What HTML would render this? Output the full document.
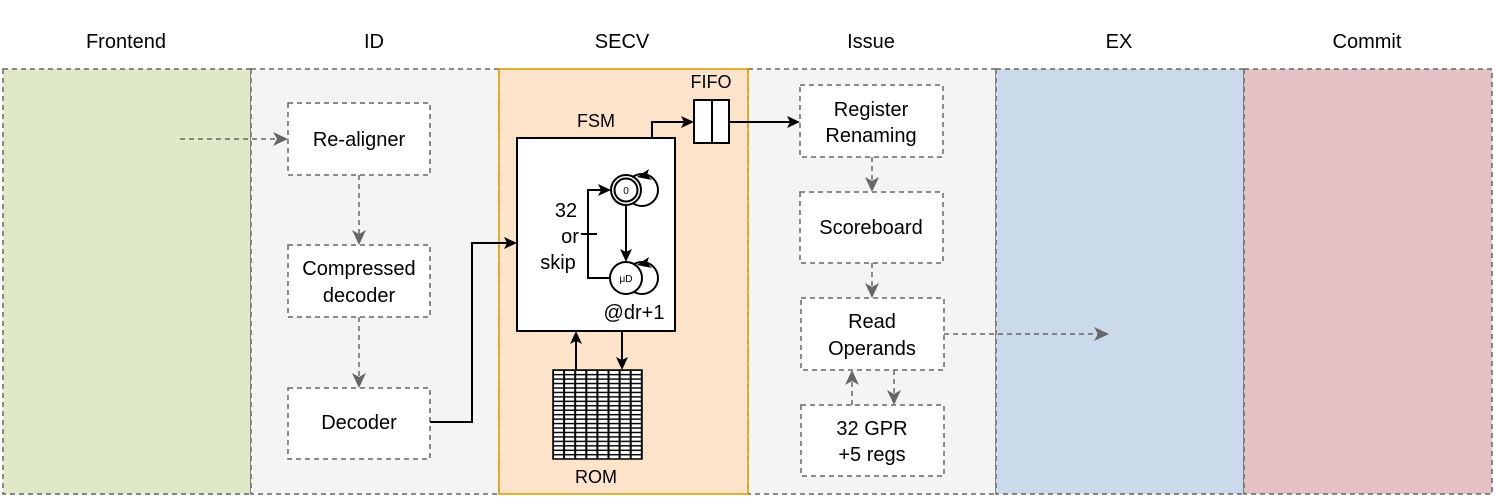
<!DOCTYPE html>
<html><head><meta charset="utf-8"><style>
html,body{margin:0;padding:0;background:#fff}
svg{display:block;font-family:"Liberation Sans",sans-serif}
</style></head><body>
<svg width="1495" height="499" viewBox="0 0 1495 499">
<defs>
<pattern id="rom" x="553" y="370" width="11.1" height="4.45" patternUnits="userSpaceOnUse"><rect width="11.1" height="4.45" fill="#000"/><rect x="1" y="0.9" width="9.1" height="3" fill="#fff"/></pattern>
</defs>
<g font-size="20" text-anchor="middle" fill="#000">
<text x="126" y="48">Frontend</text><text x="374" y="48">ID</text><text x="622" y="48">SECV</text>
<text x="871" y="48">Issue</text><text x="1119" y="48">EX</text><text x="1367" y="48">Commit</text>
</g>
<g stroke="#666" stroke-width="1.5" stroke-dasharray="5,4">
<rect x="3" y="69" width="248" height="425" fill="#dfe9c8"/>
<rect x="251" y="69" width="248" height="425" fill="#f4f4f4"/>
<rect x="748" y="69" width="248" height="425" fill="#f4f4f4"/>
<rect x="996" y="69" width="248" height="425" fill="#cbdaea"/>
<rect x="1244" y="69" width="248" height="425" fill="#e3c1c5"/>
</g>
<rect x="499" y="69" width="249" height="425" fill="#fee3cb" stroke="#d79b00" stroke-width="1.5"/>
<g stroke="#666" stroke-width="1.5" stroke-dasharray="5,4" fill="#fff">
<rect x="288" y="103" width="142" height="72"/>
<rect x="288" y="245" width="142" height="72"/>
<rect x="288" y="388" width="142" height="71"/>
<rect x="800" y="85" width="143" height="72"/>
<rect x="800" y="192" width="143" height="71"/>
<rect x="801" y="298" width="143" height="72"/>
<rect x="801" y="405" width="143" height="71"/>
</g>
<g stroke="#666" stroke-width="1.5" stroke-dasharray="5,4" fill="none">
<path d="M180,139 H278"/>
<path d="M359,175 V235"/>
<path d="M359,317 V378"/>
<path d="M872,157 V182"/>
<path d="M872,263 V288"/>
<path d="M944,334 H1099"/>
<path d="M852,405 V380"/>
<path d="M894,370 V395"/>
</g>
<g fill="#666">
<path d="M288,139 L273,132 L277,139 L273,146z"/>
<path d="M359,245 L352,230 L359,234 L366,230z"/>
<path d="M359,388 L352,373 L359,377 L366,373z"/>
<path d="M872,192 L865,177 L872,181 L879,177z"/>
<path d="M872,298 L865,283 L872,287 L879,283z"/>
<path d="M1109,334 L1094,327 L1098,334 L1094,341z"/>
<path d="M852,370 L845,385 L852,381 L859,385z"/>
<path d="M894,405 L887,390 L894,394 L901,390z"/>
</g>
<g font-size="20" text-anchor="middle" fill="#000">
<text x="359" y="146">Re-aligner</text>
<text x="359" y="275">Compressed</text><text x="359" y="302">decoder</text>
<text x="359" y="429">Decoder</text>
<text x="871" y="116">Register</text><text x="871" y="142">Renaming</text>
<text x="871" y="234">Scoreboard</text>
<text x="872" y="328">Read</text><text x="872" y="355">Operands</text>
<text x="872" y="435">32 GPR</text><text x="872" y="461">+5 regs</text>
</g>
<g stroke="#000" stroke-width="2" fill="none">
<rect x="517" y="138" width="158" height="193" fill="#fff"/>
<path d="M430,422 H472 V243 H508"/>
<path d="M652,138 V122 H685"/>
<rect x="694" y="100" width="35" height="43" fill="#fff"/>
<path d="M712,100 V143"/>
<path d="M729,122 H791"/>
<circle cx="642" cy="190" r="16"/>
<circle cx="626" cy="190" r="15" fill="#fff"/>
<circle cx="626" cy="190" r="11.5"/>
<circle cx="642" cy="278" r="16"/>
<circle cx="626" cy="278" r="16" fill="#fff"/>
<path d="M626,205 V253"/>
<path d="M610,278 H588 V190 H602"/>
<path d="M581,234 H597"/>
<path d="M576,370 V340"/>
<path d="M622,331 V361"/>
</g>
<g fill="#000">
<path d="M517,243 L504,237 L507,243 L504,249z"/>
<path d="M694,122 L681,116 L684,122 L681,128z"/>
<path d="M800,122 L787,116 L790,122 L787,128z"/>
<path d="M611,190 L598,184 L601,190 L598,196z"/>
<path d="M626,262 L620,249 L626,252 L632,249z"/>
<path d="M622,370 L616,357 L622,360 L628,357z"/>
<path d="M576,331 L570,344 L576,341 L582,344z"/>
<path d="M637,177 L649,169 L647,175 L652,180z"/>
<path d="M637,265 L649,257 L647,263 L652,268z"/>
</g>
<rect x="553" y="370" width="89" height="89" fill="url(#rom)" stroke="#000" stroke-width="1.5"/>
<g text-anchor="middle" fill="#000">
<text x="596" y="127" font-size="18">FSM</text>
<text x="711" y="88" font-size="18">FIFO</text>
<text x="626" y="194" font-size="10">0</text>
<text x="626" y="282" font-size="10">μD</text>
<text x="566" y="217" font-size="20">32</text>
<text x="570" y="243" font-size="20">or</text>
<text x="558" y="269" font-size="20">skip</text>
<text x="634" y="319" font-size="20">@dr+1</text>
<text x="596" y="483" font-size="18">ROM</text>
</g>
</svg>
</body></html>
